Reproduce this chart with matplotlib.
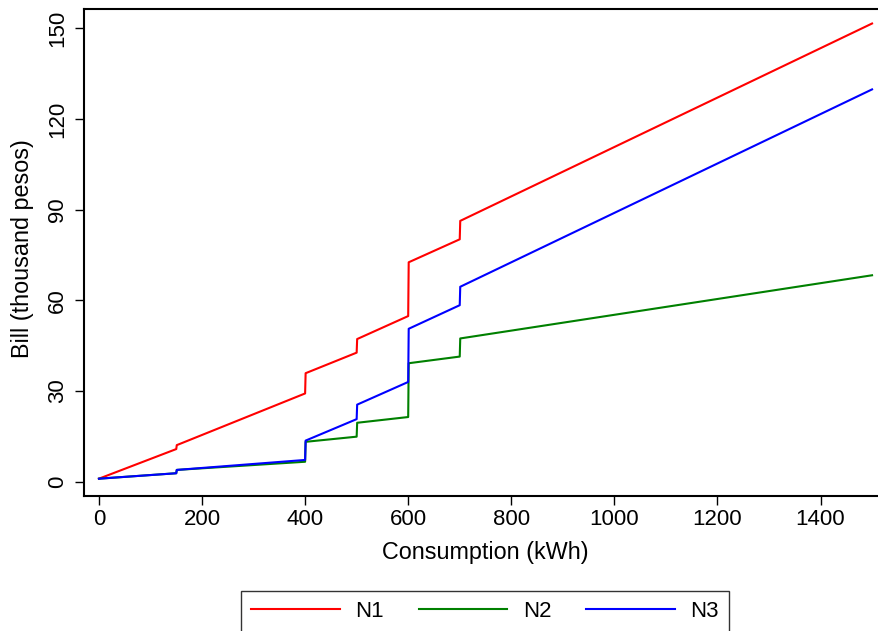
import matplotlib
matplotlib.use("Agg")
import matplotlib.pyplot as plt

plt.rcParams['font.family'] = ['Liberation Sans', 'DejaVu Sans']

# Data
consumption = [0, 150, 151, 400, 401, 500, 501, 600, 601, 700, 701, 1500]
bill_n1 = [1.0, 10.8, 12.1, 29.2, 35.9, 42.7, 47.2, 54.8, 72.6, 80.2, 86.3, 151.6]
bill_n2 = [1.0, 2.8, 3.9, 6.6, 13.2, 14.9, 19.5, 21.4, 39.2, 41.4, 47.4, 68.3]
bill_n3 = [1.0, 2.8, 3.9, 7.2, 13.6, 20.7, 25.5, 33.0, 50.6, 58.4, 64.5, 129.8]
series_names = ["N1", "N2", "N3"]
series_colors = ["#ff0000", "#008000", "#0000ff"]
xticks = [0, 200, 400, 600, 800, 1000, 1200, 1400]
yticks = [0, 30, 60, 90, 120, 150]

W, H = 879, 631
fig = plt.figure(figsize=(W / 100, H / 100), dpi=100)
fig.patch.set_facecolor("white")

left, right, top, bottom = 84, 887, 9, 495.7
ax = fig.add_axes([left / W, 1 - bottom / H, (right - left) / W, (bottom - top) / H])

for vals, name, col in zip([bill_n1, bill_n2, bill_n3], series_names, series_colors):
    ax.plot(consumption, vals, color=col, lw=1.5, label=name)

ax.set_xlim(-29, 1529)
ax.set_ylim(-4.63, 156.4)
ax.set_xticks(xticks)
ax.set_yticks(yticks)
ax.tick_params(axis='both', labelsize=16, length=6.5, width=1, direction='out')
ax.tick_params(axis='x', pad=3)
ax.tick_params(axis='y', pad=5)
for lab in ax.get_yticklabels():
    lab.set_rotation(90)
    lab.set_va('center')

for sp in ax.spines.values():
    sp.set_linewidth(1.5)
    sp.set_color('black')

ax.set_xlabel("Consumption (kWh)", fontsize=16.8)
ax.set_ylabel("Bill (thousand pesos)", fontsize=16.8)
ax.xaxis.set_label_coords(0.5, -(553 - bottom) / (bottom - top))
ax.yaxis.set_label_coords(-(left - 22) / (right - left), 0.508)
ax.xaxis.label.set_va('center')
ax.yaxis.label.set_va('center')

leg = fig.legend(loc='center', bbox_to_anchor=(485 / W, 1 - 611.7 / H), ncol=3,
                 fontsize=16, frameon=True, fancybox=False, handlelength=4.0,
                 handletextpad=0.7, columnspacing=1.55, borderpad=0.45)
leg.get_frame().set_edgecolor('black')
leg.get_frame().set_linewidth(1.0)

fig.savefig("out.png", dpi=100)
